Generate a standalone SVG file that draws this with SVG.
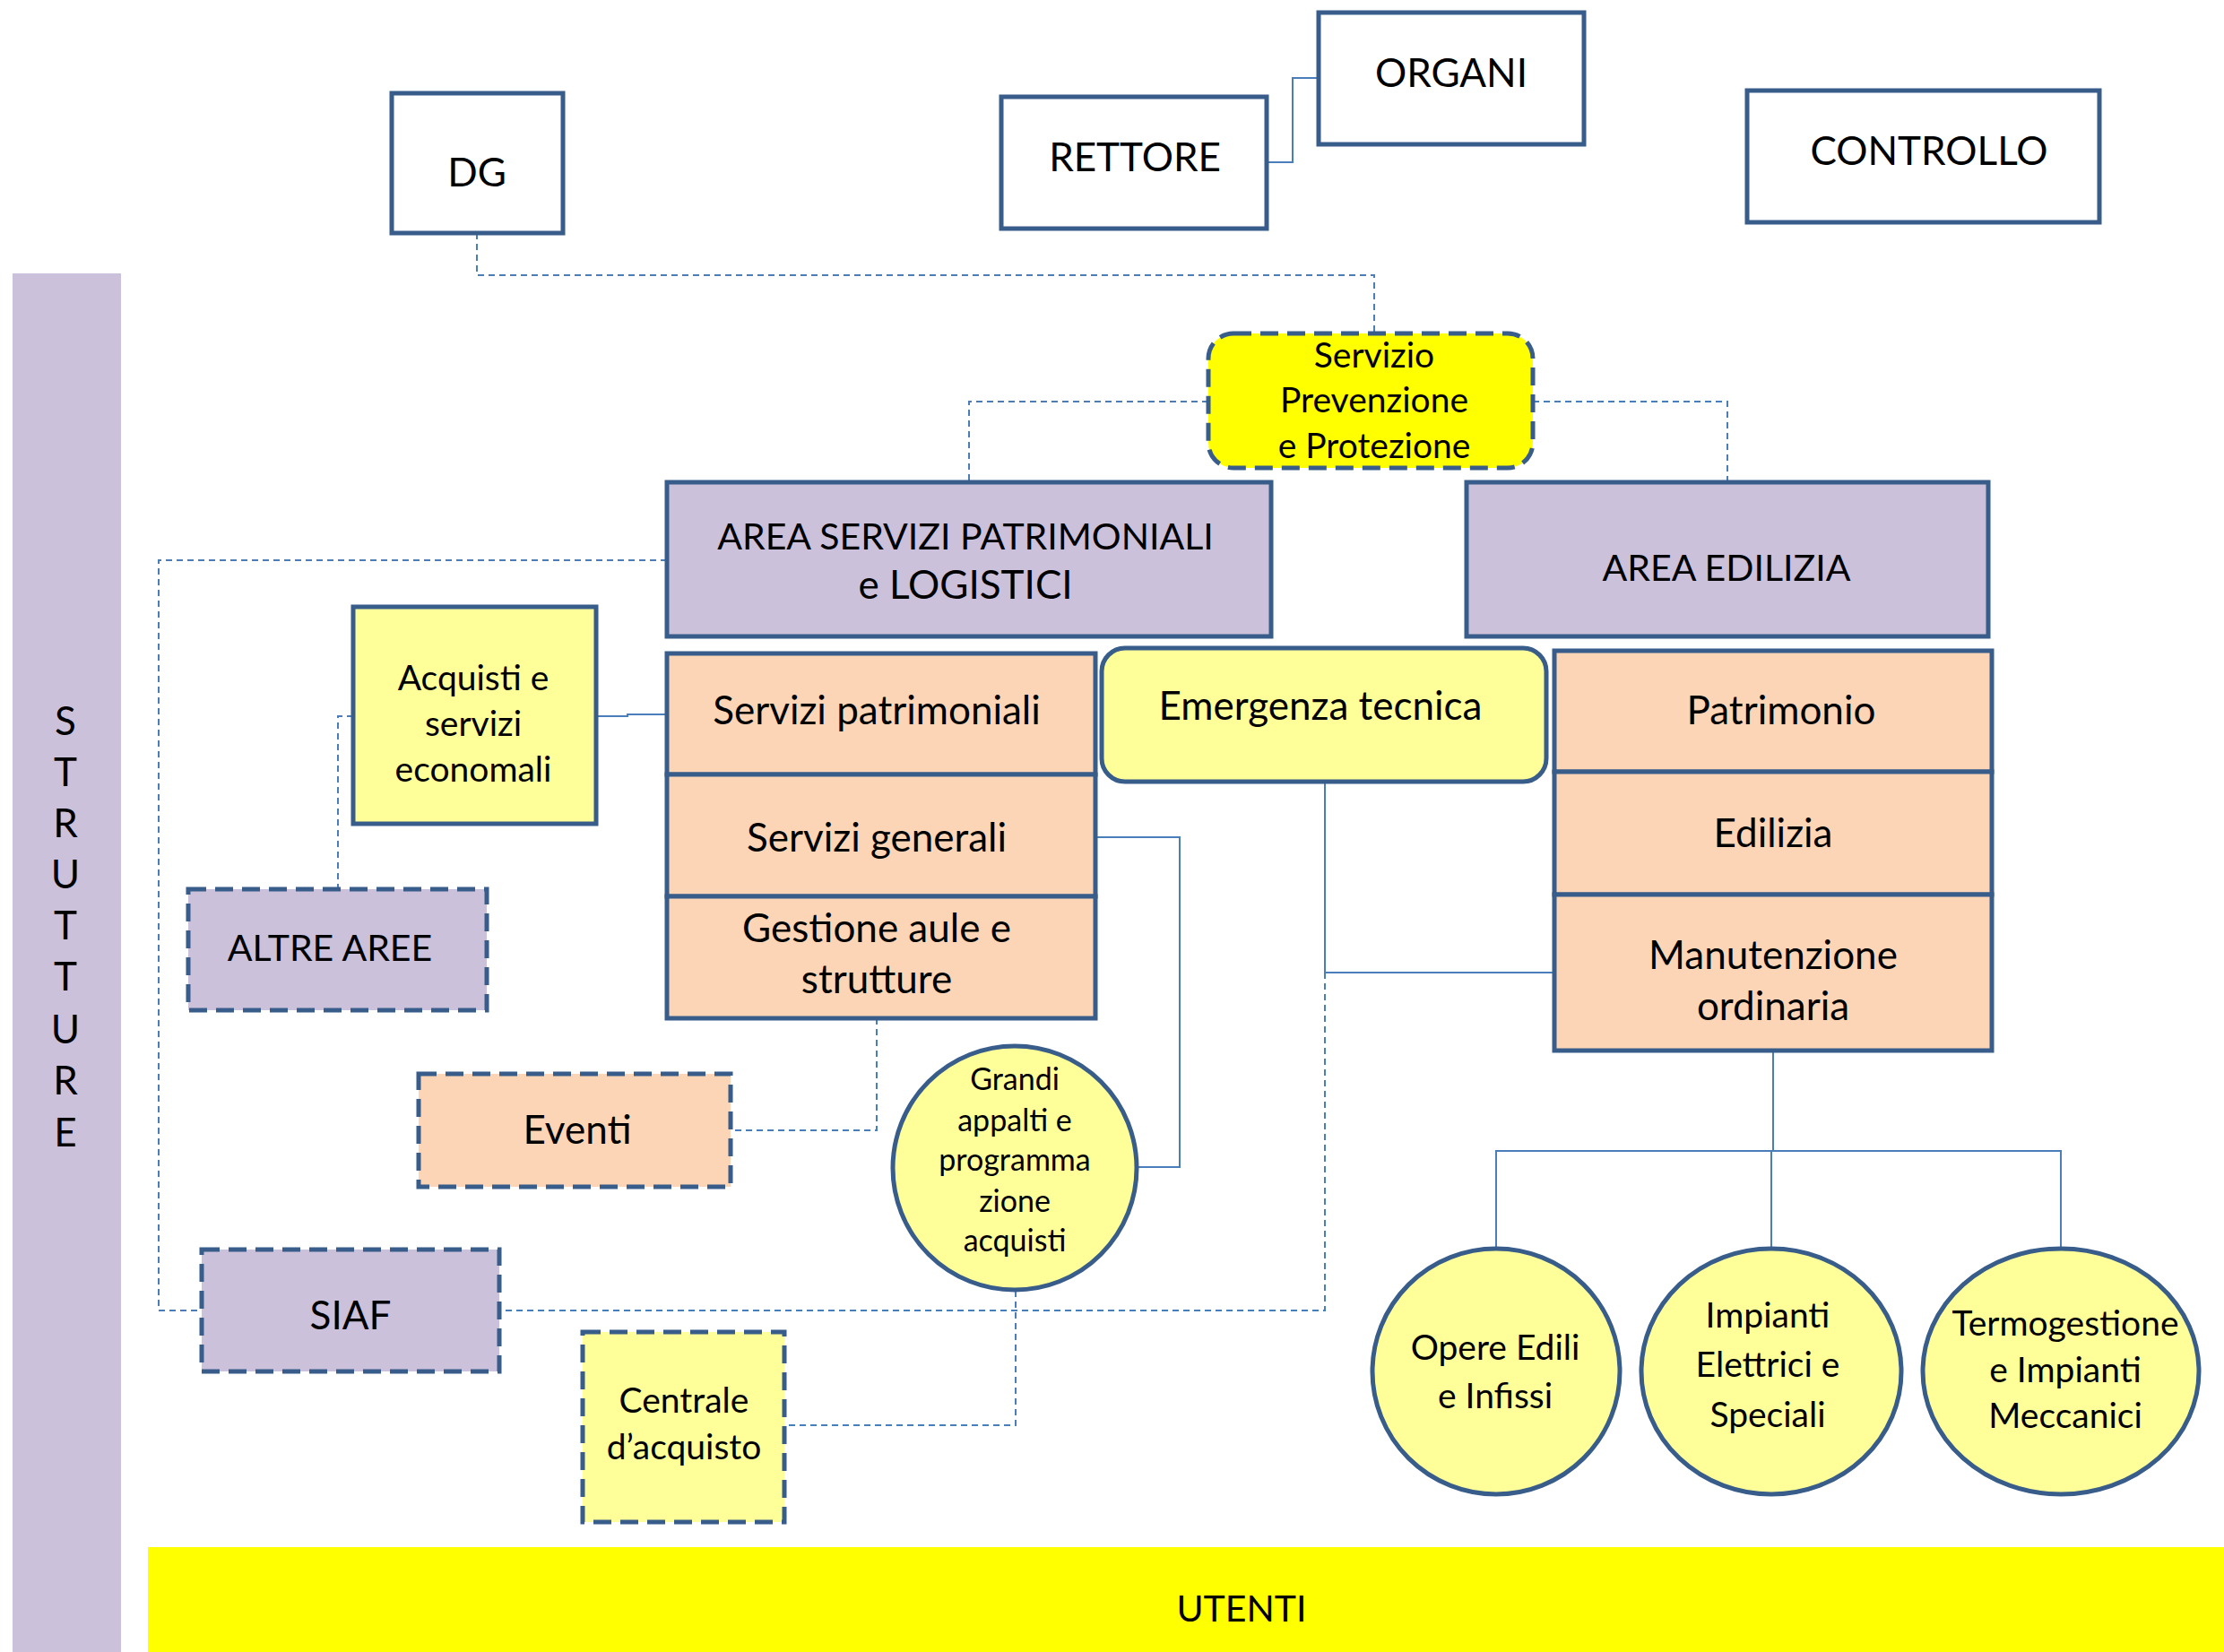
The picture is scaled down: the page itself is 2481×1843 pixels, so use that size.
<svg xmlns="http://www.w3.org/2000/svg" width="2481" height="1843" viewBox="0 0 2481 1843">
<style>
text{font-family:Lato,"Liberation Sans",sans-serif;fill:#000;text-anchor:middle}
.t{font-size:44px}
.tc{font-size:41px}
.s{font-size:39px}
.xs{font-size:34px}
.box{stroke:#385D8A;stroke-width:5}
.dbox{stroke:#385D8A;stroke-width:5;stroke-dasharray:20 10}
.w{fill:#fff}
.lav{fill:#CCC1DA}
.pch{fill:#FBD5B5}
.ly{fill:#FFFF99}
.y{fill:#FFFF00}
.c{fill:none;stroke:#4A7EBB;stroke-width:2}
.cd{fill:none;stroke:#4A7EBB;stroke-width:2;stroke-dasharray:7 5}
</style>
<rect width="2481" height="1843" fill="#fff"/>
<g id="strutture">
<rect x="14" y="305" width="121" height="1538" fill="#CCC1DA"/>
<text class="t" x="73" y="820">S</text>
<text class="t" x="73" y="877">T</text>
<text class="t" x="73" y="934">R</text>
<text class="t" x="73" y="991">U</text>
<text class="t" x="73" y="1048">T</text>
<text class="t" x="73" y="1105">T</text>
<text class="t" x="73" y="1164">U</text>
<text class="t" x="73" y="1221">R</text>
<text class="t" x="73" y="1279">E</text>
</g>
<g id="utenti">
<rect x="165" y="1726" width="2316" height="117" fill="#FFFF00"/>
<text class="tc" x="1385" y="1809">UTENTI</text>
</g>
<g id="connectors">
<polyline class="c" points="1413,181 1442,181 1442,87 1471,87"/>
<polyline class="cd" points="532,260 532,307 1533,307 1533,372"/>
<polyline class="cd" points="1348,448 1081,448 1081,538"/>
<polyline class="cd" points="1710,448 1927,448 1927,538"/>
<polyline class="cd" points="744,625 177,625 177,1462 225,1462"/>
<polyline class="c" points="665,799 700,799 700,797 744,797"/>
<polyline class="cd" points="394,799 377,799 377,992"/>
<polyline class="c" points="1222,934 1316,934 1316,1302 1268,1302"/>
<polyline class="cd" points="978,1136 978,1261 815,1261"/>
<polyline class="c" points="1478,872 1478,1085 1734,1085"/>
<polyline class="cd" points="1478,1085 1478,1462 557,1462"/>
<polyline class="cd" points="1133,1440 1133,1590 875,1590"/>
<polyline class="c" points="1978,1172 1978,1284"/>
<polyline class="c" points="1669,1393 1669,1284 2299,1284 2299,1393"/>
<line class="c" x1="1976" y1="1284" x2="1976" y2="1393"/>
</g>
<g id="dg"><rect class="box w" x="437" y="104" width="191" height="156"/><text class="t" x="532" y="208">DG</text></g>
<g id="rettore"><rect class="box w" x="1117" y="108" width="296" height="147"/><text class="t" x="1266" y="191">RETTORE</text></g>
<g id="organi"><rect class="box w" x="1471" y="14" width="296" height="147"/><text class="t" x="1619" y="97">ORGANI</text></g>
<g id="controllo"><rect class="box w" x="1949" y="101" width="393" height="147"/><text class="t" x="2152" y="184">CONTROLLO</text></g>
<g id="spp"><rect class="dbox y" x="1348" y="372" width="362" height="150" rx="28"/>
<text class="s" x="1533" y="410">Servizio</text><text class="s" x="1533" y="460">Prevenzione</text><text class="s" x="1533" y="511">e Protezione</text></g>
<g id="area-spl"><rect class="box lav" x="744" y="538" width="674" height="172"/>
<text class="tc" x="1077" y="613">AREA SERVIZI PATRIMONIALI</text><text class="t" x="1077" y="668">e LOGISTICI</text></g>
<g id="area-edilizia"><rect class="box lav" x="1636" y="538" width="582" height="172"/>
<text class="tc" x="1926" y="648">AREA EDILIZIA</text></g>
<g id="acquisti"><rect class="box ly" x="394" y="677" width="271" height="242"/>
<text class="s" x="528" y="770">Acquisti e</text><text class="s" x="528" y="821">servizi</text><text class="s" x="528" y="872">economali</text></g>
<g id="altre-aree"><rect class="dbox lav" x="210" y="992" width="333" height="135"/><text class="tc" x="368" y="1072">ALTRE AREE</text></g>
<g id="servizi-patrimoniali"><rect class="box pch" x="744" y="729" width="478" height="135"/><text class="t" x="978" y="808">Servizi patrimoniali</text></g>
<g id="servizi-generali"><rect class="box pch" x="744" y="864" width="478" height="136"/><text class="t" x="978" y="950">Servizi generali</text></g>
<g id="gestione-aule"><rect class="box pch" x="744" y="1000" width="478" height="136"/>
<text class="t" x="978" y="1051">Gestione aule e</text><text class="t" x="978" y="1108">strutture</text></g>
<g id="eventi"><rect class="dbox pch" x="467" y="1198" width="348" height="126"/><text class="t" x="644" y="1276">Eventi</text></g>
<g id="emergenza"><rect class="box ly" x="1229" y="723" width="496" height="149" rx="26"/><text class="t" x="1473" y="803">Emergenza tecnica</text></g>
<g id="grandi-appalti"><ellipse class="box ly" cx="1132" cy="1303" rx="136" ry="136"/>
<text class="xs" x="1132" y="1216">Grandi</text><text class="xs" x="1132" y="1262">appalti e</text><text class="xs" x="1132" y="1306">programma</text><text class="xs" x="1132" y="1352">zione</text><text class="xs" x="1132" y="1396">acquisti</text></g>
<g id="siaf"><rect class="dbox lav" x="225" y="1394" width="332" height="136"/><text class="t" x="391" y="1483">SIAF</text></g>
<g id="centrale"><rect class="dbox ly" x="650" y="1486" width="225" height="212"/>
<text class="s" x="763" y="1576">Centrale</text><text class="s" x="763" y="1628">d’acquisto</text></g>
<g id="patrimonio"><rect class="box pch" x="1734" y="726" width="488" height="135"/><text class="t" x="1987" y="808">Patrimonio</text></g>
<g id="edilizia"><rect class="box pch" x="1734" y="861" width="488" height="137"/><text class="t" x="1978" y="945">Edilizia</text></g>
<g id="manutenzione"><rect class="box pch" x="1734" y="998" width="488" height="174"/>
<text class="t" x="1978" y="1081">Manutenzione</text><text class="t" x="1978" y="1138">ordinaria</text></g>
<g id="opere-edili"><ellipse class="box ly" cx="1669" cy="1530" rx="138" ry="137"/>
<text class="s" x="1668" y="1517">Opere Edili</text><text class="s" x="1668" y="1571">e Infissi</text></g>
<g id="impianti-elettrici"><ellipse class="box ly" cx="1976" cy="1530" rx="145" ry="137"/>
<text class="s" x="1972" y="1481">Impianti</text><text class="s" x="1972" y="1536">Elettrici e</text><text class="s" x="1972" y="1592">Speciali</text></g>
<g id="termogestione"><ellipse class="box ly" cx="2299" cy="1530" rx="154" ry="137"/>
<text class="s" x="2304" y="1490">Termogestione</text><text class="s" x="2304" y="1542">e Impianti</text><text class="s" x="2304" y="1593">Meccanici</text></g>
</svg>
